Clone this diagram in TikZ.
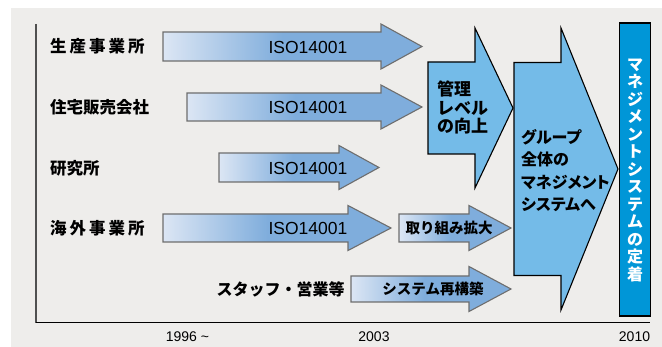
\documentclass[tikz,border=0pt]{standalone}
\usepackage{fontspec}
\setmainfont{Liberation Sans}
\newfontfamily\jp{Noto Sans CJK JP}
\newfontfamily\jpp{Noto Sans CJK JP}[RawFeature=+palt]
\newfontfamily\jpls{Noto Sans CJK JP}[LetterSpace=18]
\definecolor{bggray}{HTML}{EEEDEB}
\definecolor{arrlight}{HTML}{DCE6F4}
\definecolor{arrblue}{HTML}{7FADDC}
\definecolor{arrborder}{HTML}{6E6E6E}
\definecolor{bigblue}{HTML}{74BBE8}
\definecolor{barblue}{HTML}{0096D7}
\definecolor{axisgray}{HTML}{505050}
\pgfdeclarehorizontalshading{arrgrad}{100bp}{color(0bp)=(arrlight); color(25bp)=(arrlight); color(48bp)=(arrblue); color(100bp)=(arrblue)}
\newcommand{\blkarrow}[7]{%
  \path[#1] (#2,#5-#6) -- (#3,#5-#6) -- (#3,#5-#7) -- (#4,#5) -- (#3,#5+#7) -- (#3,#5+#6) -- (#2,#5+#6) -- cycle;}
\tikzset{
  smallarrow/.style={draw=arrborder, line width=1.1pt, shade, shading=arrgrad},
  bigarrow/.style={draw=black, line width=1.1pt, fill=bigblue},
  rowlabel/.style={anchor=west, inner sep=0pt, font=\jp\bfseries\fontsize{16.5}{18}\selectfont},
  isotext/.style={inner sep=0pt, font=\fontsize{17.5}{20}\selectfont},
  yeartext/.style={inner sep=0pt, font=\fontsize{14}{16}\selectfont},
  arrtext/.style={inner sep=0pt, font=\jp\bfseries\fontsize{14.5}{16}\selectfont},
}
\begin{document}
\begin{tikzpicture}[x=1pt, y=-1pt]
\useasboundingbox (0,0) rectangle (662,347);
\fill[white] (0,0) rectangle (662,347);
\fill[bggray] (11,8) rectangle (662,347);
% axes
\coordinate (axtop) at (36,24);
\coordinate (axorig) at (36,323);
\coordinate (axend) at (650,323);
\draw[axisgray, line width=1.6pt] (axtop) -- (axorig);
\draw[black, line width=1pt] (axorig) -- (axend);
% small arrows
\blkarrow{smallarrow}{163}{381}{422}{46.5}{14.5}{22.5}
\blkarrow{smallarrow}{187}{381}{422}{107}{14}{22}
\blkarrow{smallarrow}{219}{339}{379}{167.5}{14.5}{22}
\blkarrow{smallarrow}{163}{348}{391}{228}{14}{22.5}
\blkarrow{smallarrow}{399}{469}{511}{228}{14}{22.5}
\blkarrow{smallarrow}{351}{469}{511}{289}{13}{22.5}
% big arrows
\blkarrow{bigarrow}{428}{475}{513}{108}{46}{80}
\blkarrow{bigarrow}{514}{561}{618}{169}{106.5}{141}
% bar
\node[draw=black, line width=1.2pt, fill=barblue, minimum width=31pt, minimum height=293pt, inner sep=0pt] (bar) at (635,169.5) {};
\node[inner sep=0pt, align=center, text=white, font=\jp\bfseries\fontsize{16}{17.5}\selectfont] (bartext) at (635,170)
  {マ\\ネ\\ジ\\メ\\ン\\ト\\シ\\ス\\テ\\ム\\の\\定\\着};
% row labels
\node[rowlabel, font=\jpls\bfseries\fontsize{16.5}{18}\selectfont] (l1) at (50,46.5) {生産事業所};
\node[rowlabel] (l2) at (50,107) {住宅販売会社};
\node[rowlabel] (l3) at (50,168) {研究所};
\node[rowlabel, font=\jpls\bfseries\fontsize{16.5}{18}\selectfont] (l4) at (50,228) {海外事業所};
\node[inner sep=0pt, font=\jp\bfseries\fontsize{16}{18}\selectfont] (l5) at (280.5,289) {スタッフ・営業等};
% ISO texts
\node[isotext] (i1) at (308,47) {ISO14001};
\node[isotext] (i2) at (308,107.5) {ISO14001};
\node[isotext] (i3) at (308,168) {ISO14001};
\node[isotext] (i4) at (308,228.5) {ISO14001};
% arrow texts
\node[arrtext] (t1) at (449,228) {取り組み拡大};
\node[arrtext] (t2) at (433,289) {システム再構築};
\node[anchor=north west, inner sep=0pt, align=left, font=\jp\bfseries\fontsize{17}{18.5}\selectfont] (b1) at (437,81) {管理\\レベル\\の向上};
\node[anchor=north west, inner sep=0pt, align=left, font=\jpp\bfseries\fontsize{16}{22.5}\selectfont] (b2) at (521,129) {グループ\\全体の\\マネジメント\\システムへ};
% years
\node[yeartext] (y1) at (187.5,337) {1996 \textasciitilde};
\node[yeartext] (y2) at (374,337) {2003};
\node[yeartext] (y3) at (634.5,337) {2010};
\end{tikzpicture}
\end{document}
